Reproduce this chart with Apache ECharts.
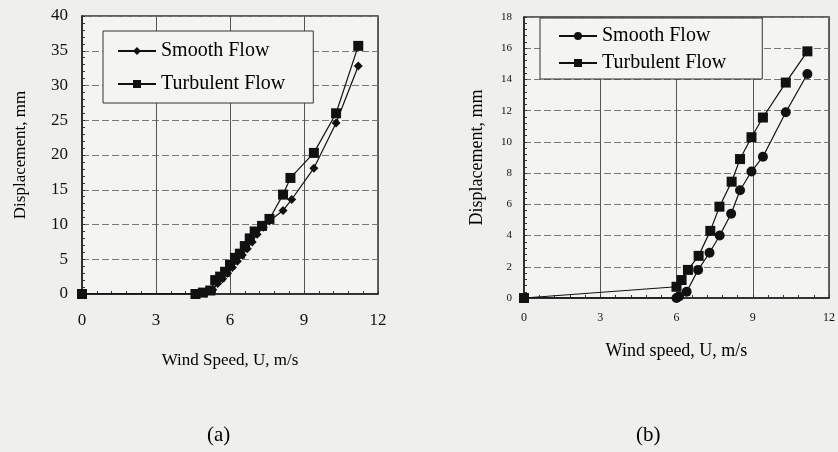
<!DOCTYPE html>
<html>
<head>
<meta charset="utf-8">
<script src="https://cdn.jsdelivr.net/npm/echarts@6/dist/echarts.min.js"></script>
<style>
html,body{margin:0;padding:0;background:#efefed;}
#chart{width:838px;height:452px;}
</style>
</head>
<body>
<div id="chart"></div>
<script>
// Panel (a) data: [wind speed m/s, displacement mm]
const smoothA = [[0,0],[4.7,0],[5.0,0.1],[5.3,0.6],[5.5,1.5],[5.7,2.2],[5.9,3.0],[6.1,3.8],[6.3,4.7],[6.5,5.6],[6.7,6.5],[6.9,7.5],[7.1,8.6],[7.35,9.6],[7.6,10.5],[8.15,12.0],[8.5,13.6],[9.4,18.1],[10.3,24.6],[11.2,32.8]];
const turbulentA = [[0,0],[4.6,0],[4.9,0.2],[5.2,0.5],[5.4,2.0],[5.6,2.5],[5.8,3.2],[6.0,4.2],[6.2,5.2],[6.4,5.8],[6.6,6.9],[6.8,8.0],[7.0,9.0],[7.3,9.8],[7.6,10.8],[8.15,14.3],[8.45,16.7],[9.4,20.3],[10.3,26.0],[11.2,35.7]];
// Panel (b) data
const smoothB = [[0,0],[6.0,0],[6.1,0.1],[6.4,0.4],[6.85,1.8],[7.3,2.9],[7.7,4.0],[8.15,5.4],[8.5,6.9],[8.95,8.1],[9.4,9.05],[10.3,11.9],[11.15,14.35]];
const turbulentB = [[0,0],[6.0,0.72],[6.2,1.15],[6.45,1.8],[6.87,2.7],[7.33,4.3],[7.69,5.85],[8.17,7.45],[8.5,8.9],[8.95,10.3],[9.4,11.56],[10.3,13.8],[11.15,15.8]];
const seriesNames = ['Smooth Flow','Turbulent Flow'];
const xLabelA = 'Wind Speed, U, m/s';
const xLabelB = 'Wind speed, U, m/s';
const yLabel = 'Displacement, mm';
const panelLabels = ['(a)','(b)'];

const FONT = '"Liberation Serif","DejaVu Serif",serif';
const chart = echarts.init(document.getElementById('chart'));

function xAxis(gridIndex, name, fs){
  return {
    type:'value', gridIndex, min:0, max:12, interval:3,
    name, nameLocation:'middle', nameGap: gridIndex===0?58:44,
    nameTextStyle:{fontFamily:FONT,fontSize:gridIndex===0?17:18,color:'#000'},
    axisLine:{show:true,onZero:false,lineStyle:{color:'#222',width:1.5}},
    axisTick:{show:true,inside:true,length:3,lineStyle:{color:'#333'}},
    minorTick:{show:true,splitNumber:5,length:3,lineStyle:{color:'#333'}},
    axisLabel:{fontFamily:FONT,fontSize:fs,color:'#111',margin:gridIndex===0?18:14},
    splitLine:{show:true,lineStyle:{color:'#555',width:1}}
  };
}
function yAxis(gridIndex, max, interval, fs){
  return {
    type:'value', gridIndex, min:0, max, interval,
    name:yLabel, nameLocation:'middle', nameGap: gridIndex===0?53:38,
    nameTextStyle:{fontFamily:FONT,fontSize:gridIndex===0?17:18,color:'#000'},
    axisLine:{show:true,lineStyle:{color:'#222',width:1.5}},
    axisTick:{show:true,inside:true,length:3,lineStyle:{color:'#333'}},
    minorTick:{show:true,splitNumber:5,length:3,lineStyle:{color:'#333'}},
    axisLabel:{fontFamily:FONT,fontSize:fs,color:'#111',margin:gridIndex===0?14:12},
    splitLine:{show:true,lineStyle:{color:'#777',width:1,type:[7,3]}}
  };
}
function ser(name, data, xi, symbol, size){
  return {
    name, type:'line', data, xAxisIndex:xi, yAxisIndex:xi,
    symbol, symbolSize:size, showSymbol:true,
    lineStyle:{color:'#111',width:1.2},
    itemStyle:{color:'#111'},
    emphasis:{disabled:true}, animation:false
  };
}

chart.setOption({
  backgroundColor:'#efefed',
  animation:false,
  grid:[
    {left:82,top:16,width:296,height:278,show:true,backgroundColor:'#f4f4f2',borderColor:'#333',borderWidth:1.5},
    {left:524,top:17,width:306,height:281,show:true,backgroundColor:'#f4f4f2',borderColor:'#333',borderWidth:1.5}
  ],
  xAxis:[xAxis(0,xLabelA,17), xAxis(1,xLabelB,12)],
  yAxis:[yAxis(0,40,5,17), yAxis(1,18,2,11)],
  legend:[
    {data:[{name:seriesNames[0]},{name:seriesNames[1]}], orient:'vertical', left:103, top:31,
     itemWidth:38, itemHeight:10, itemGap:13,
     padding:[10,28,9,14], borderColor:'#333', borderWidth:1, backgroundColor:'#f4f4f2',
     textStyle:{fontFamily:FONT,fontSize:20,color:'#000'}, selectedMode:false},
    {data:[{name:seriesNames[0]+' '},{name:seriesNames[1]+' '}], orient:'vertical', left:540, top:18,
     itemWidth:38, itemHeight:10, itemGap:7,
     padding:[8,31,6,18], borderColor:'#333', borderWidth:1, backgroundColor:'#f4f4f2',
     textStyle:{fontFamily:FONT,fontSize:20,color:'#000'}, selectedMode:false}
  ],
  series:[
    ser(seriesNames[0], smoothA, 0, 'diamond', 9),
    ser(seriesNames[1], turbulentA, 0, 'rect', 10),
    ser(seriesNames[0]+' ', smoothB, 1, 'circle', 10),
    ser(seriesNames[1]+' ', turbulentB, 1, 'rect', 10)
  ],
  graphic:[
    {type:'text',left:207,top:425,style:{text:panelLabels[0],font:'21px '+FONT,fill:'#000'}},
    {type:'text',left:636,top:425,style:{text:panelLabels[1],font:'21px '+FONT,fill:'#000'}}
  ]
});
</script>
</body>
</html>
